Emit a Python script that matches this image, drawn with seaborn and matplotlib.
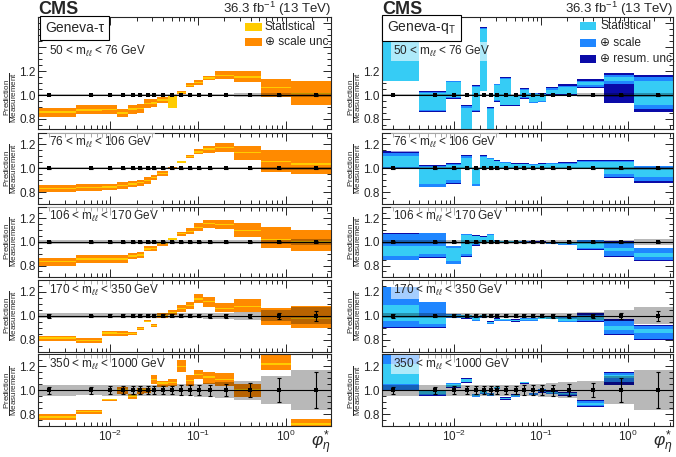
import numpy as np
import pandas as pd
import matplotlib
matplotlib.use("Agg")
import matplotlib.pyplot as plt
import matplotlib.ticker as ticker
from matplotlib.patches import Rectangle
import seaborn as sns

# phi*_eta binning, shared by the measurement and both predictions
PHI_EDGES = [0.0, 0.004, 0.008, 0.012, 0.016, 0.020, 0.024, 0.029, 0.034, 0.045,
             0.057, 0.072, 0.091, 0.114, 0.158, 0.258, 0.524, 1.153, 3.277]

MASS_LABELS = [r"50 < m$_{\ell\ell}$ < 76 GeV",
               r"76 < m$_{\ell\ell}$ < 106 GeV",
               r"106 < m$_{\ell\ell}$ < 170 GeV",
               r"170 < m$_{\ell\ell}$ < 350 GeV",
               r"350 < m$_{\ell\ell}$ < 1000 GeV"]

# measurement / measurement
MEAS_RATIO = [1.0, 1.0, 1.0, 1.0, 1.0, 1.0, 1.0, 1.0, 1.0,
              1.0, 1.0, 1.0, 1.0, 1.0, 1.0, 1.0, 1.0, 1.0]

# relative measurement uncertainty: grey band half width and error bar
BAND_50_76 = [0.012, 0.012, 0.012, 0.012, 0.012, 0.012, 0.012, 0.012, 0.012,
              0.012, 0.012, 0.012, 0.012, 0.012, 0.012, 0.013, 0.015, 0.018]
ERR_50_76 = [0.004, 0.004, 0.004, 0.004, 0.004, 0.004, 0.004, 0.004, 0.004,
             0.004, 0.004, 0.004, 0.004, 0.004, 0.004, 0.004, 0.005, 0.006]
BAND_76_106 = [0.010, 0.010, 0.010, 0.010, 0.010, 0.010, 0.010, 0.010, 0.010,
               0.010, 0.010, 0.010, 0.010, 0.010, 0.010, 0.010, 0.011, 0.012]
ERR_76_106 = [0.003, 0.003, 0.003, 0.003, 0.003, 0.003, 0.003, 0.003, 0.003,
              0.003, 0.003, 0.003, 0.003, 0.003, 0.003, 0.003, 0.004, 0.005]
BAND_106_170 = [0.013, 0.013, 0.013, 0.013, 0.013, 0.013, 0.013, 0.013, 0.013,
                0.013, 0.013, 0.013, 0.013, 0.013, 0.014, 0.015, 0.020, 0.025]
ERR_106_170 = [0.005, 0.005, 0.005, 0.005, 0.005, 0.005, 0.005, 0.005, 0.005,
               0.005, 0.005, 0.005, 0.005, 0.005, 0.006, 0.008, 0.010, 0.012]
BAND_170_350 = [0.022, 0.020, 0.020, 0.020, 0.020, 0.020, 0.020, 0.020, 0.020,
                0.020, 0.020, 0.020, 0.022, 0.024, 0.028, 0.032, 0.045, 0.070]
ERR_170_350 = [0.015, 0.010, 0.012, 0.012, 0.012, 0.012, 0.012, 0.012, 0.012,
               0.012, 0.012, 0.012, 0.013, 0.014, 0.016, 0.018, 0.025, 0.040]
BAND_350_1000 = [0.045, 0.040, 0.045, 0.045, 0.045, 0.045, 0.045, 0.045, 0.045,
                 0.045, 0.050, 0.050, 0.055, 0.060, 0.065, 0.080, 0.120, 0.170]
ERR_350_1000 = [0.030, 0.030, 0.035, 0.035, 0.035, 0.035, 0.035, 0.035, 0.035,
                0.035, 0.040, 0.040, 0.040, 0.045, 0.050, 0.060, 0.100, 0.150]

# Geneva-tau / measurement: (scale lo, stat lo, stat hi, scale hi)
TAU_50_76 = [(0.820, 0.850, 0.865, 0.895), (0.843, 0.870, 0.884, 0.914),
             (0.845, 0.873, 0.887, 0.920), (0.813, 0.841, 0.855, 0.886),
             (0.845, 0.878, 0.892, 0.920), (0.848, 0.880, 0.894, 0.922),
             (0.895, 0.923, 0.937, 0.963), (0.900, 0.928, 0.942, 0.965),
             (0.934, 0.952, 0.968, 0.985), (0.890, 0.895, 0.995, 1.000),
             (1.010, 1.017, 1.029, 1.037), (1.066, 1.074, 1.086, 1.100),
             (1.086, 1.099, 1.111, 1.123), (1.123, 1.136, 1.148, 1.163),
             (1.135, 1.160, 1.170, 1.200), (1.105, 1.145, 1.155, 1.200),
             (0.985, 1.061, 1.071, 1.135), (0.915, 1.005, 1.015, 1.115)]
TAU_76_106 = [(0.800, 0.826, 0.838, 0.860), (0.810, 0.831, 0.843, 0.865),
              (0.815, 0.836, 0.848, 0.870), (0.830, 0.849, 0.861, 0.885),
              (0.840, 0.862, 0.874, 0.895), (0.855, 0.874, 0.886, 0.905),
              (0.870, 0.891, 0.903, 0.925), (0.900, 0.914, 0.926, 0.942),
              (0.935, 0.949, 0.961, 0.977), (0.990, 0.994, 1.006, 1.010),
              (1.043, 1.046, 1.058, 1.063), (1.084, 1.092, 1.104, 1.113),
              (1.116, 1.129, 1.141, 1.165), (1.130, 1.154, 1.166, 1.190),
              (1.140, 1.170, 1.180, 1.210), (1.070, 1.125, 1.135, 1.190),
              (0.970, 1.055, 1.065, 1.150), (0.950, 1.030, 1.040, 1.155)]
TAU_106_170 = [(0.800, 0.830, 0.842, 0.864), (0.825, 0.849, 0.861, 0.886),
               (0.825, 0.849, 0.861, 0.886), (0.825, 0.849, 0.861, 0.886),
               (0.853, 0.874, 0.886, 0.908), (0.866, 0.884, 0.896, 0.913),
               (0.922, 0.934, 0.946, 0.963), (0.925, 0.939, 0.951, 0.965),
               (0.970, 0.979, 0.991, 0.997), (1.013, 1.019, 1.031, 1.038),
               (1.052, 1.064, 1.076, 1.088), (1.070, 1.084, 1.096, 1.117),
               (1.097, 1.119, 1.131, 1.158), (1.117, 1.149, 1.161, 1.186),
               (1.110, 1.144, 1.156, 1.186), (1.040, 1.094, 1.106, 1.158),
               (0.950, 1.014, 1.026, 1.130), (0.922, 0.994, 1.006, 1.100)]
TAU_170_350 = [(0.788, 0.809, 0.821, 0.835), (0.775, 0.789, 0.801, 0.815),
               (0.835, 0.849, 0.861, 0.876), (0.835, 0.847, 0.859, 0.870),
               (0.840, 0.848, 0.858, 0.866), (0.884, 0.890, 0.900, 0.907),
               (0.945, 0.950, 0.960, 0.967), (0.907, 0.915, 0.925, 0.934),
               (0.980, 0.994, 1.006, 1.022), (1.008, 1.024, 1.036, 1.050),
               (1.035, 1.054, 1.066, 1.090), (1.055, 1.079, 1.091, 1.113),
               (1.105, 1.134, 1.146, 1.180), (1.070, 1.114, 1.126, 1.160),
               (1.030, 1.054, 1.066, 1.105), (1.035, 1.074, 1.086, 1.138),
               (0.925, 0.989, 1.001, 1.063), (0.898, 0.974, 0.986, 1.083)]
TAU_350_1000 = [(0.748, 0.770, 0.782, 0.797), (0.797, 0.814, 0.826, 0.835),
                (0.907, 0.914, 0.926, 0.930), (0.970, 0.994, 1.006, 1.023),
                (0.930, 0.944, 0.956, 0.970), (0.970, 0.994, 1.006, 1.020),
                (0.975, 0.994, 1.006, 1.020), (1.052, 1.084, 1.096, 1.125),
                (1.030, 1.054, 1.066, 1.080), (1.037, 1.059, 1.071, 1.095),
                (1.153, 1.194, 1.206, 1.255), (1.037, 1.074, 1.086, 1.125),
                (1.095, 1.124, 1.136, 1.168), (1.052, 1.104, 1.116, 1.153),
                (1.037, 1.084, 1.096, 1.140), (0.942, 0.994, 1.006, 1.052),
                (1.168, 1.214, 1.226, 1.320), (0.680, 0.712, 0.724, 0.760)]

# Geneva-qT / measurement: (resum lo, scale lo, stat lo, stat hi, scale hi, resum hi)
QT_50_76 = [(1.120, 1.120, 1.120, 2.000, 2.000, 2.000),
            (0.855, 0.865, 0.875, 1.015, 1.025, 1.035),
            (0.970, 0.975, 0.980, 1.110, 1.115, 1.120),
            (0.600, 0.600, 0.600, 0.895, 0.905, 0.915),
            (0.860, 0.865, 0.872, 1.068, 1.074, 1.080),
            (1.030, 1.033, 1.037, 1.555, 1.560, 1.565),
            (0.600, 0.600, 0.600, 0.885, 0.892, 0.900),
            (0.945, 0.950, 0.955, 1.082, 1.090, 1.095),
            (0.910, 0.915, 0.920, 1.135, 1.143, 1.150),
            (0.910, 0.915, 0.920, 0.990, 0.995, 1.000),
            (0.970, 0.975, 0.980, 1.040, 1.048, 1.055),
            (0.930, 0.935, 0.940, 1.005, 1.013, 1.020),
            (0.940, 0.945, 0.950, 1.005, 1.012, 1.020),
            (1.000, 1.005, 1.010, 1.045, 1.055, 1.065),
            (1.000, 1.005, 1.012, 1.065, 1.078, 1.090),
            (1.062, 1.070, 1.080, 1.110, 1.120, 1.130),
            (0.930, 1.090, 1.120, 1.150, 1.170, 1.180),
            (0.860, 0.880, 0.920, 1.120, 1.150, 1.170)]
QT_76_106 = [(1.000, 1.005, 1.010, 1.100, 1.130, 1.145),
             (0.840, 0.845, 0.870, 1.010, 1.020, 1.030),
             (0.870, 0.875, 0.905, 1.025, 1.033, 1.040),
             (0.990, 0.995, 1.000, 1.085, 1.100, 1.110),
             (0.850, 0.855, 0.870, 0.990, 0.995, 1.000),
             (0.995, 1.000, 1.005, 1.095, 1.103, 1.110),
             (0.995, 1.000, 1.003, 1.078, 1.085, 1.090),
             (0.995, 1.000, 1.003, 1.058, 1.065, 1.070),
             (0.995, 1.000, 1.003, 1.045, 1.050, 1.055),
             (0.995, 1.000, 1.003, 1.032, 1.036, 1.040),
             (0.995, 1.000, 1.003, 1.032, 1.036, 1.040),
             (0.995, 1.000, 1.003, 1.028, 1.032, 1.035),
             (0.995, 1.000, 1.003, 1.032, 1.036, 1.040),
             (0.995, 1.000, 1.003, 1.035, 1.040, 1.045),
             (0.995, 1.000, 1.003, 1.038, 1.045, 1.050),
             (0.990, 1.000, 1.005, 1.050, 1.062, 1.070),
             (0.915, 0.930, 0.950, 1.050, 1.065, 1.070),
             (0.875, 0.890, 0.930, 1.000, 1.015, 1.020)]
QT_106_170 = [(0.845, 0.850, 0.880, 0.970, 1.070, 1.075),
              (0.865, 0.870, 0.895, 0.970, 1.075, 1.080),
              (0.810, 0.815, 0.835, 0.950, 0.965, 0.970),
              (0.875, 0.880, 0.900, 1.060, 1.065, 1.070),
              (0.970, 0.975, 0.980, 1.050, 1.055, 1.060),
              (0.990, 0.992, 0.995, 1.040, 1.045, 1.050),
              (0.990, 0.992, 0.995, 1.060, 1.065, 1.070),
              (0.990, 0.992, 0.995, 1.010, 1.013, 1.015),
              (0.995, 0.997, 0.998, 1.006, 1.008, 1.010),
              (0.995, 0.997, 0.998, 1.006, 1.008, 1.010),
              (0.993, 0.995, 0.997, 1.004, 1.006, 1.008),
              (0.990, 0.992, 0.994, 1.002, 1.004, 1.006),
              (0.990, 0.992, 0.994, 1.002, 1.004, 1.006),
              (0.985, 0.987, 0.989, 0.997, 0.999, 1.000),
              (0.975, 0.978, 0.982, 0.993, 0.997, 1.000),
              (0.935, 0.940, 0.950, 1.000, 1.015, 1.020),
              (0.875, 0.885, 0.920, 0.950, 0.995, 1.010),
              (0.840, 0.845, 0.875, 0.905, 0.945, 0.950)]
QT_170_350 = [(0.900, 0.905, 0.960, 1.090, 1.240, 1.245),
              (0.900, 0.905, 0.935, 1.000, 1.115, 1.120),
              (0.980, 0.983, 0.988, 1.008, 1.013, 1.015),
              (0.975, 0.978, 0.983, 1.003, 1.008, 1.010),
              (0.955, 0.958, 0.962, 0.980, 0.987, 0.990),
              (0.980, 0.983, 0.988, 1.003, 1.008, 1.010),
              (0.930, 0.933, 0.937, 0.948, 0.952, 0.955),
              (0.955, 0.958, 0.962, 0.972, 0.977, 0.980),
              (0.955, 0.958, 0.962, 0.970, 0.973, 0.975),
              (0.950, 0.953, 0.957, 0.965, 0.968, 0.970),
              (0.955, 0.958, 0.962, 0.975, 0.978, 0.980),
              (0.955, 0.958, 0.962, 0.975, 0.978, 0.980),
              (0.970, 0.973, 0.977, 0.988, 0.992, 0.995),
              (0.970, 0.973, 0.977, 0.988, 0.992, 0.995),
              (0.945, 0.950, 0.958, 0.980, 0.990, 0.995),
              (0.945, 0.955, 0.965, 0.995, 1.010, 1.020),
              (0.840, 0.850, 0.880, 0.915, 0.955, 0.970),
              (0.800, 0.805, 0.855, 0.890, 0.915, 0.920)]
QT_350_1000 = [(0.990, 1.000, 1.050, 1.220, 1.300, 1.350),
               (0.955, 0.960, 0.965, 0.990, 0.997, 1.000),
               (1.020, 1.025, 1.030, 1.050, 1.057, 1.060),
               (1.060, 1.065, 1.070, 1.090, 1.097, 1.100),
               (0.940, 0.945, 0.950, 0.960, 0.965, 0.970),
               (0.965, 0.970, 0.975, 0.990, 0.997, 1.000),
               (0.950, 0.955, 0.960, 0.968, 0.972, 0.975),
               (1.010, 1.013, 1.016, 1.024, 1.027, 1.030),
               (0.920, 0.925, 0.930, 0.935, 0.938, 0.940),
               (0.940, 0.945, 0.950, 0.958, 0.962, 0.965),
               (1.055, 1.058, 1.061, 1.065, 1.068, 1.070),
               (0.960, 0.963, 0.966, 0.970, 0.973, 0.975),
               (0.980, 0.985, 0.990, 1.000, 1.006, 1.010),
               (0.965, 0.970, 0.975, 0.982, 0.987, 0.990),
               (0.955, 0.960, 0.965, 0.975, 0.980, 0.985),
               (0.855, 0.865, 0.875, 0.895, 0.910, 0.915),
               (1.040, 1.070, 1.100, 1.125, 1.145, 1.155),
               (np.nan, np.nan, np.nan, np.nan, np.nan, np.nan)]

BANDS = [BAND_50_76, BAND_76_106, BAND_106_170, BAND_170_350, BAND_350_1000]
ERRS = [ERR_50_76, ERR_76_106, ERR_106_170, ERR_170_350, ERR_350_1000]
TAU = [TAU_50_76, TAU_76_106, TAU_106_170, TAU_170_350, TAU_350_1000]
QT = [QT_50_76, QT_76_106, QT_106_170, QT_170_350, QT_350_1000]

ORANGE, YELLOW = "#ff8a00", "#ffcc00"
DARKBLUE, MIDBLUE, CYAN = "#0a0aa8", "#1f86ff", "#36ccf5"

sns.set_theme(style="ticks")
plt.rcParams["font.family"] = ["Liberation Sans", "DejaVu Sans"]
plt.rcParams["mathtext.fontset"] = "custom"
plt.rcParams["mathtext.rm"] = "Liberation Sans"
plt.rcParams["mathtext.it"] = "Liberation Sans:italic"
plt.rcParams["mathtext.bf"] = "Liberation Sans:bold"
plt.rcParams["mathtext.fallback"] = "stixsans"
plt.rcParams["axes.linewidth"] = 0.8

edges = np.array(PHI_EDGES)
left = np.maximum(edges[:-1], 1e-4)
width = edges[1:] - left
centers = 0.5 * (edges[:-1] + edges[1:])

W, H = 676, 457
fig = plt.figure(figsize=(W / 100, H / 100), dpi=100)

# panel rows in pixels (top, bottom)
rows = [(17.3, 128.5), (132.5, 204.0), (206.7, 277.3), (280.0, 351.7), (354.3, 426.0)]
cols = [(38.3, 330.7), (382.3, 673.0)]


def fill(ax, lo, hi, color, z=1, alpha=1.0):
    lo = np.asarray(lo, float)
    hi = np.asarray(hi, float)
    ok = ~np.isnan(lo)
    ax.bar(left[ok], (hi - lo)[ok], width=width[ok], bottom=lo[ok], align="edge",
           color=color, linewidth=0, zorder=z, alpha=alpha)


def style_axis(ax, top_panel, bottom_panel):
    ax.set_xscale("log")
    ax.set_xlim(0.0015, 3.277)
    if top_panel:
        ax.set_ylim(0.72, 1.65)
        ax.yaxis.set_major_locator(ticker.FixedLocator([0.8, 1.0, 1.2, 1.4, 1.6]))
        ax.yaxis.set_major_formatter(
            ticker.FuncFormatter(lambda v, _: f"{v:.1f}" if v < 1.25 else ""))
    else:
        ax.set_ylim(0.7, 1.3)
        ax.yaxis.set_major_locator(ticker.FixedLocator([0.8, 1.0, 1.2]))
        ax.yaxis.set_major_formatter(ticker.FormatStrFormatter("%.1f"))
    ax.yaxis.set_minor_locator(ticker.MultipleLocator(0.05))
    ax.xaxis.set_major_locator(ticker.LogLocator(base=10, numticks=10))
    ax.xaxis.set_minor_locator(ticker.LogLocator(base=10, subs=np.arange(2, 10), numticks=100))
    ax.xaxis.set_minor_formatter(ticker.NullFormatter())
    ax.tick_params(which="both", direction="in", top=True, right=True,
                   labelsize=8.5, width=0.7, pad=2)
    ax.tick_params(which="major", length=6)
    ax.tick_params(which="minor", length=3)
    if not bottom_panel:
        ax.tick_params(axis="x", which="both", labelbottom=False)
    ax.set_ylabel(r"$\dfrac{\mathrm{Prediction}}{\mathrm{Measurement}}$", fontsize=5.8)
    ax.yaxis.set_label_coords(-0.066, 0.28 if top_panel else 0.5)


for c, (x0, x1) in enumerate(cols):
    for r, (y0, y1) in enumerate(rows):
        ax = fig.add_axes([x0 / W, 1 - y1 / H, (x1 - x0) / W, (y1 - y0) / H])
        style_axis(ax, r == 0, r == len(rows) - 1)

        if c == 0:
            pred = pd.DataFrame(TAU[r], columns=["lo", "stat_lo", "stat_hi", "hi"])
            fill(ax, pred["lo"], pred["hi"], ORANGE)
            fill(ax, pred["stat_lo"], pred["stat_hi"], YELLOW)
        else:
            pred = pd.DataFrame(QT[r], columns=["res_lo", "scl_lo", "sta_lo",
                                                "sta_hi", "scl_hi", "res_hi"])
            fill(ax, pred["res_lo"], pred["res_hi"], DARKBLUE)
            fill(ax, pred["scl_lo"], pred["scl_hi"], MIDBLUE)
            fill(ax, pred["sta_lo"], pred["sta_hi"], CYAN)

        meas = pd.DataFrame({"phi": centers, "ratio": MEAS_RATIO,
                             "band": BANDS[r], "err": ERRS[r]})
        fill(ax, meas["ratio"] - meas["band"], meas["ratio"] + meas["band"],
             "black", z=2, alpha=0.28)
        ax.axhline(1.0, color="black", lw=0.8, zorder=3)
        ax.errorbar(meas["phi"], meas["ratio"], yerr=meas["err"], fmt="none",
                    ecolor="black", elinewidth=0.8, capsize=1.5, capthick=0.8, zorder=4)
        sns.scatterplot(data=meas, x="phi", y="ratio", marker="s", s=7, color="black",
                        linewidth=0, ax=ax, zorder=5, legend=False)
        ax.set_xlabel("")

        ax.text(0.037, 0.69 if r == 0 else 0.86, MASS_LABELS[r], transform=ax.transAxes,
                fontsize=8.5, ha="left", va="center", zorder=6,
                bbox=dict(boxstyle="square,pad=0.15", fc="white", ec="none", alpha=0.6))

        if r == 0:
            name = "Geneva-τ" if c == 0 else r"Geneva-q$_\mathregular{T}$"
            ax.text(0.125 if c == 0 else 0.135, 0.905, name, transform=ax.transAxes,
                    fontsize=10, ha="center", va="center", zorder=7,
                    bbox=dict(boxstyle="square,pad=0.35", fc="white", ec="black", lw=0.8))
            if c == 0:
                entries = [(YELLOW, "Statistical", 0.915), (ORANGE, "⊕ scale unc.", 0.775)]
                sx, sw, tx = 0.707, 0.058, 0.775
            else:
                entries = [(CYAN, "Statistical", 0.92), (MIDBLUE, "⊕ scale", 0.77),
                           (DARKBLUE, "⊕ resum. unc.", 0.625)]
                sx, sw, tx = 0.68, 0.055, 0.749
            for color, txt, yy in entries:
                ax.add_patch(Rectangle((sx, yy - 0.035), sw, 0.07, transform=ax.transAxes,
                                       color=color, lw=0, zorder=7))
                ax.text(tx, yy, txt, transform=ax.transAxes, fontsize=8.6,
                        ha="left", va="center", zorder=7)

    fig.text(x0 / W, 1 - 14 / H, "CMS", fontsize=13, fontweight="bold",
             ha="left", va="baseline")
    fig.text(x1 / W, 1 - 13.5 / H, r"36.3 fb$^{-1}$ (13 TeV)", fontsize=9.5,
             ha="right", va="baseline")
    fig.text(x1 / W, 1 - 443 / H, r"$\varphi^{*}_{\eta}$", fontsize=12.5,
             ha="right", va="center")

fig.savefig("out.png", dpi=100)
